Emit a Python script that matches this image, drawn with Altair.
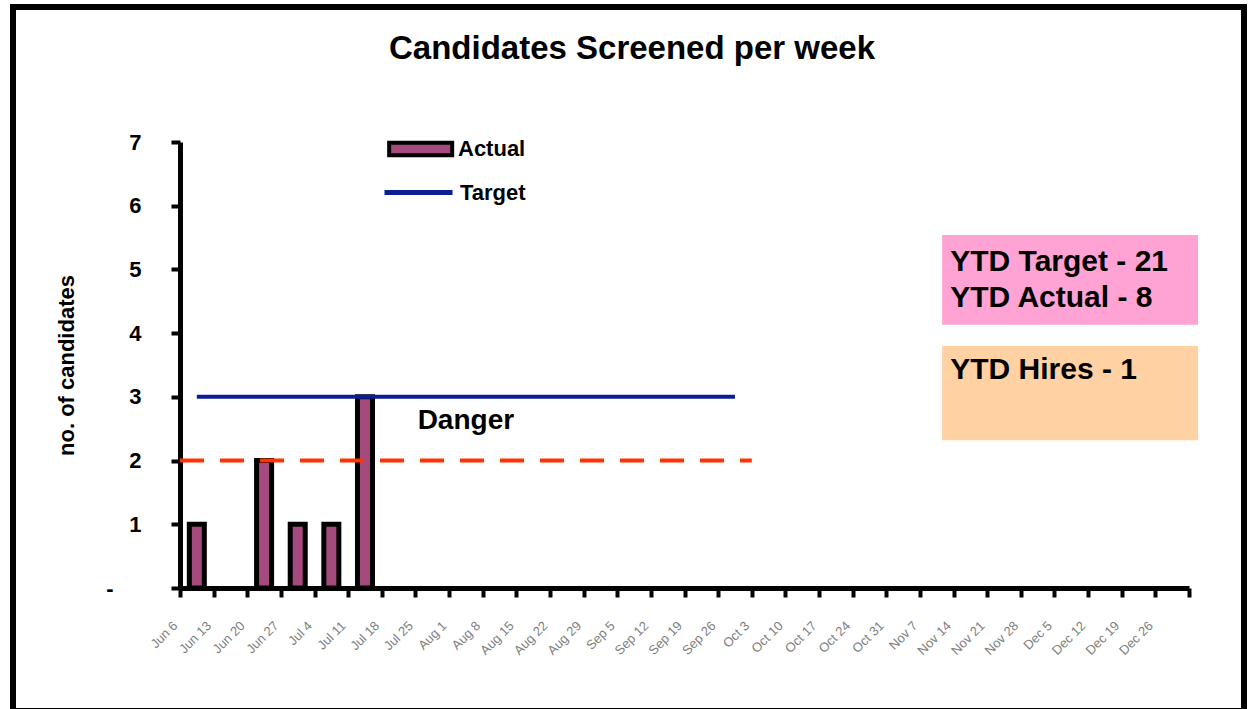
import altair as alt
import pandas as pd

# ---------------- data ----------------
weeks = ["Jun 6", "Jun 13", "Jun 20", "Jun 27", "Jul 4", "Jul 11", "Jul 18", "Jul 25",
         "Aug 1", "Aug 8", "Aug 15", "Aug 22", "Aug 29", "Sep 5", "Sep 12", "Sep 19",
         "Sep 26", "Oct 3", "Oct 10", "Oct 17", "Oct 24", "Oct 31", "Nov 7", "Nov 14",
         "Nov 21", "Nov 28", "Dec 5", "Dec 12", "Dec 19", "Dec 26"]
actual = [1, 0, 2, 1, 1, 3, 0, 0, 0, 0, 0, 0, 0, 0, 0, 0,
          0, 0, 0, 0, 0, 0, 0, 0, 0, 0, 0, 0, 0, 0]
target = [3, 3, 3, 3, 3, 3, 3, 3, 3, 3, 3, 3, 3, 3, 3, 3, 3,
          None, None, None, None, None, None, None, None, None, None, None, None, None]

danger_level = 2
danger_start = "Jun 6"
danger_end = "Sep 26"
danger_label = "Danger"
danger_label_week = "Aug 1"
danger_label_y = 2.62

title_text = "Candidates Screened per week"
y_title = "no. of candidates"

# annotation boxes (x in week units, y in axis units)
box_x0 = [22.16, 22.16]
box_x1 = [29.77, 29.77]
box_y0 = [5.54, 3.80]
box_y1 = [4.13, 2.32]
box_fill = ["#FFA3D4", "#FFD1A3"]
note_text = ["YTD Target - 21", "YTD Actual - 8", "YTD Hires - 1"]
note_x = [22.4, 22.4, 22.4]
note_y = [5.12, 4.55, 3.42]

BAR_COLOR = "#A44A7C"
TARGET_COLOR = "#0A1E96"
DANGER_COLOR = "#FF3300"
FONT = "Liberation Sans"

W, H = 1009, 446
PAD = {"left": 180, "top": 142, "right": 60, "bottom": 121}

df = pd.DataFrame({"week": weeks, "actual": actual, "target": target})
df["series"] = "Actual"
df["tseries"] = "Target"

x_scale = alt.Scale(domain=weeks, paddingInner=0, paddingOuter=0)
y_scale = alt.Scale(domain=[0, 7])

x_axis = alt.Axis(
    title=None, labelAngle=-45, labelFont=FONT, labelFontSize=13, labelColor="#808080",
    labelPadding=22, labelOffset=-26, tickBand="extent", tickSize=9, tickWidth=4,
    tickColor="black", domainColor="black", domainWidth=5, grid=False,
)
y_axis = alt.Axis(
    values=[0, 1, 2, 3, 4, 5, 6, 7], format="d",
    labelExpr="datum.value == 0 ? '-' : datum.label",
    labelFont=FONT, labelFontSize=22, labelFontWeight="bold", labelColor="black",
    labelPadding={"condition": {"test": "datum.value == 0", "value": 58}, "value": 30},
    tickSize=9, tickWidth=4, tickColor="black",
    domainColor="black", domainWidth=5, grid=False,
    titleFont=FONT, titleFontSize=22, titleFontWeight="bold", titleColor="black",
    titlePadding=27,
)

bars = alt.Chart(df).transform_filter("datum.actual > 0").mark_bar(
    size=15, stroke="black", strokeWidth=5
).encode(
    x=alt.X("week:N", sort=weeks, scale=x_scale, axis=x_axis),
    y=alt.Y("actual:Q", scale=y_scale, axis=y_axis, title=y_title),
    color=alt.Color(
        "series:N",
        scale=alt.Scale(domain=["Actual"], range=[BAR_COLOR]),
        legend=alt.Legend(
            title=None, orient="none", legendX=207, legendY=-5, padding=0,
            symbolType="M-1,-0.64H5.4V0.64H-1Z", symbolSize=388,
            symbolStrokeColor="black", symbolStrokeWidth=4, symbolOpacity=1,
            labelFont=FONT, labelFontSize=22, labelFontWeight="bold",
            labelColor="black", labelOffset=47,
        ),
    ),
)

line = alt.Chart(df).transform_filter("datum.target != null").mark_line(strokeWidth=4).encode(
    x=alt.X("week:N", sort=weeks, scale=x_scale),
    y=alt.Y("target:Q", scale=y_scale, title=y_title),
    stroke=alt.Stroke(
        "tseries:N",
        scale=alt.Scale(domain=["Target"], range=[TARGET_COLOR]),
        legend=alt.Legend(
            title=None, orient="none", legendX=202, legendY=14, padding=0,
            symbolType="stroke", symbolSize=4624, symbolStrokeWidth=5,
            labelFont=FONT, labelFontSize=22, labelFontWeight="bold",
            labelColor="black", labelOffset=5,
        ),
    ),
)

danger_df = pd.DataFrame({"start": [danger_start], "end": [danger_end], "level": [danger_level]})
danger = alt.Chart(danger_df).mark_rule(
    color=DANGER_COLOR, strokeWidth=4, strokeDash=[24, 16]
).encode(
    x=alt.X("start:N", scale=x_scale, bandPosition=0),
    x2=alt.X2("end:N", bandPosition=1),
    y=alt.Y("level:Q", scale=y_scale, title=y_title),
)

danger_txt_df = pd.DataFrame({"week": [danger_label_week], "y": [danger_label_y], "t": [danger_label]})
danger_txt = alt.Chart(danger_txt_df).mark_text(
    font=FONT, fontSize=28, fontWeight="bold", color="black"
).encode(
    x=alt.X("week:N", scale=x_scale),
    y=alt.Y("y:Q", scale=y_scale, title=y_title),
    text="t:N",
)

main = alt.layer(bars, line, danger, danger_txt)

box_df = pd.DataFrame({"x0": box_x0, "x1": box_x1, "y0": box_y0, "y1": box_y1, "fill": box_fill})
boxes = alt.Chart(box_df).mark_rect().encode(
    x=alt.X("x0:Q", scale=alt.Scale(domain=[-0.5, 29.5]), axis=None),
    x2="x1:Q",
    y=alt.Y("y0:Q", scale=y_scale, title=y_title),
    y2="y1:Q",
    fill=alt.Fill("fill:N", scale=None),
)
note_df = pd.DataFrame({"x": note_x, "y": note_y, "t": note_text})
notes = alt.Chart(note_df).mark_text(
    font=FONT, fontSize=30, fontWeight="bold", color="black", align="left", baseline="middle"
).encode(
    x=alt.X("x:Q", scale=alt.Scale(domain=[-0.5, 29.5]), axis=None),
    y=alt.Y("y:Q", scale=y_scale, title=y_title),
    text="t:N",
)
annot = alt.layer(boxes, notes)

title_df = pd.DataFrame({"t": [title_text]})
title = alt.Chart(title_df).mark_text(
    font=FONT, fontSize=33, fontWeight="bold", color="black", baseline="middle"
).encode(text="t:N", x=alt.value(452), y=alt.value(-93))

frame = alt.Chart(pd.DataFrame({"a": [0]})).mark_rect(
    fill=None, stroke="black", strokeWidth=6
).encode(x=alt.value(-167), x2=alt.value(1064), y=alt.value(-135), y2=alt.value(569))

chart = alt.layer(main, annot, title, frame).resolve_scale(x="independent").properties(
    width=W, height=H, padding=PAD, autosize=alt.AutoSizeParams(type="none"),
    background="white",
).configure_view(stroke=None)

chart.save("out.html", embed_options={"renderer": "svg", "actions": False})
